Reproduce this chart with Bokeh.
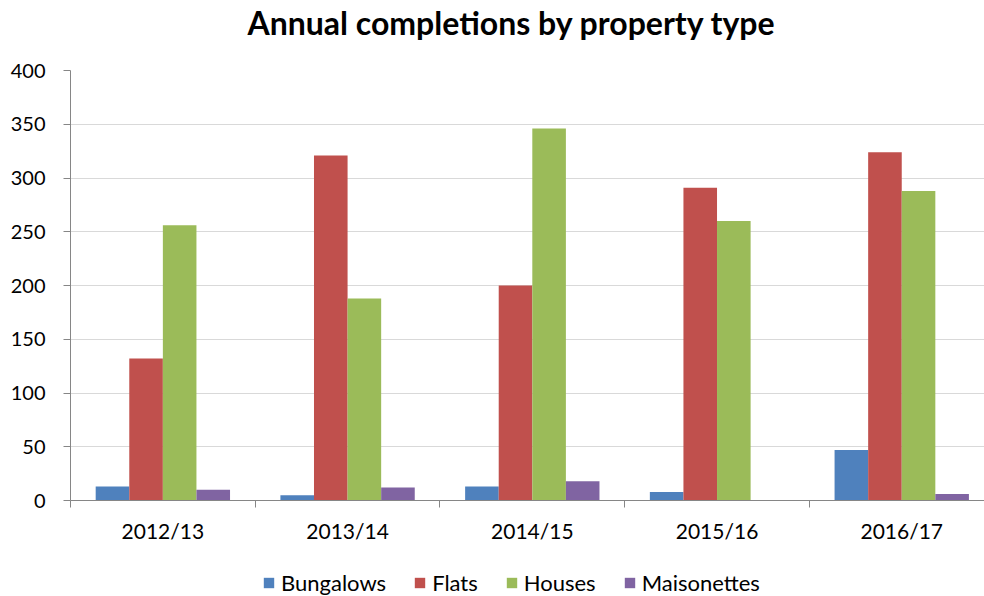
from bokeh.plotting import figure
from bokeh.layouts import column
from bokeh.models import (FixedTicker, Range1d, Legend, LegendItem,
                          ColumnDataSource, Title)
from bokeh.transform import dodge
from bokeh.embed import file_html
from bokeh.resources import INLINE

years = ["2012/13", "2013/14", "2014/15", "2015/16", "2016/17"]
bungalows = [13, 5, 13, 8, 47]
flats = [132, 321, 200, 291, 324]
houses = [256, 188, 346, 260, 288]
maisonettes = [10, 12, 18, 0, 6]
series_names = ["Bungalows", "Flats", "Houses", "Maisonettes"]
series_colors = ["#4F81BD", "#C0504D", "#9BBB59", "#8064A2"]
y_ticks = [0, 50, 100, 150, 200, 250, 300, 350, 400]
title_text = "Annual completions by property type"

FONT = "Lato"
centers = [i + 0.5 for i in range(len(years))]
source = ColumnDataSource(dict(x=centers, Bungalows=bungalows, Flats=flats,
                               Houses=houses, Maisonettes=maisonettes))

p = figure(width=984, height=556, output_backend="svg", toolbar_location=None,
           x_range=Range1d(0, 4.948), y_range=Range1d(0, 400),
           min_border_left=70, min_border_right=0, min_border_top=70,
           min_border_bottom=56)
p.title = None

# spacer (nearest the frame) then the real title above it
p.add_layout(Title(text=" ", text_font=FONT, text_font_size="10px", standoff=13), "above")
p.add_layout(Title(text=title_text, text_font=FONT, text_font_size="32px",
                   text_font_style="bold", text_color="#000000", align="left",
                   offset=177, vertical_align="top", standoff=0), "above")

bw = 1 / 5.5
offsets = [-1.5 * bw, -0.5 * bw, 0.5 * bw, 1.5 * bw]
for name, col, off in zip(series_names, series_colors, offsets):
    p.vbar(x=dodge("x", off), top=name, width=bw, bottom=0, source=source,
           fill_color=col, line_color=None)

# y axis
p.yaxis.ticker = FixedTicker(ticks=y_ticks)
p.yaxis.axis_line_color = "#868686"
p.yaxis.major_tick_line_color = "#868686"
p.yaxis.major_tick_out = 7
p.yaxis.major_tick_in = 0
p.yaxis.minor_tick_line_color = None
p.yaxis.major_label_standoff = 18
p.yaxis.major_label_text_font = FONT
p.yaxis.major_label_text_font_size = "20px"
p.yaxis.major_label_text_color = "#000000"

# x axis
p.xaxis.ticker = FixedTicker(ticks=centers, minor_ticks=[0, 1, 2, 3, 4, 5])
p.xaxis.major_label_overrides = {c: y for c, y in zip(centers, years)}
p.xaxis.axis_line_color = "#868686"
p.xaxis.major_tick_line_color = None
p.xaxis.major_tick_out = 0
p.xaxis.major_tick_in = 0
p.xaxis.minor_tick_line_color = "#868686"
p.xaxis.minor_tick_out = 7
p.xaxis.minor_tick_in = 0
p.xaxis.major_label_standoff = 10
p.xaxis.major_label_text_font = FONT
p.xaxis.major_label_text_font_size = "21px"
p.xaxis.major_label_text_color = "#000000"

p.xgrid.grid_line_color = None
p.ygrid.ticker = FixedTicker(ticks=y_ticks)
p.ygrid.grid_line_color = "#D9D9D9"
p.ygrid.grid_line_width = 1
p.outline_line_color = None

# legend strip: same series drawn into a range that keeps the bars out of view,
# so only the legend swatches show
pl = figure(width=984, height=40, output_backend="svg", toolbar_location=None,
            x_axis_type=None, y_axis_type=None,
            x_range=Range1d(0, 4.948), y_range=Range1d(1000, 1001),
            min_border=0)
pl.outline_line_color = None
pl.xgrid.grid_line_color = None
pl.ygrid.grid_line_color = None
items = []
for name, col, off in zip(series_names, series_colors, offsets):
    r = pl.vbar(x=dodge("x", off), top=name, width=bw, bottom=0, source=source,
                fill_color=col, line_color=None)
    items.append(LegendItem(label=name, renderers=[r]))
legend = Legend(items=items, orientation="horizontal", location=(192, 0),
                label_text_font=FONT, label_text_font_size="22px",
                label_text_color="#000000", label_height=24,
                glyph_width=13, glyph_height=13, label_standoff=6, spacing=27,
                border_line_color=None, background_fill_color=None,
                padding=0, margin=0)
pl.add_layout(legend)

layout = column(p, pl, spacing=0)
open("out.html", "w").write(file_html(layout, INLINE))
